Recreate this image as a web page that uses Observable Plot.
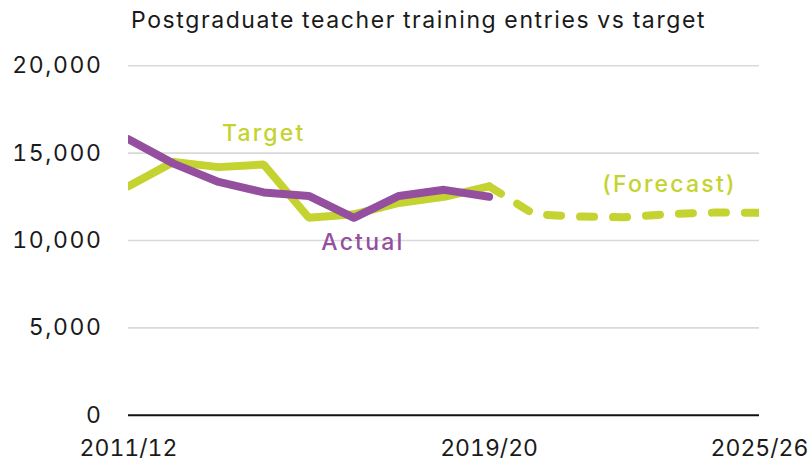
<!DOCTYPE html>
<html>
<head>
<meta charset="utf-8">
<script src="https://cdn.jsdelivr.net/npm/d3@7"></script>
<script src="https://cdn.jsdelivr.net/npm/@observablehq/plot@0.6"></script>
<style>
  html, body { margin: 0; padding: 0; background: #fff; }
  #title { height: 44px; box-sizing: border-box; padding-top: 9px; padding-left: 131px;
    font-family: Inter, sans-serif; font-size: 23px; line-height: 23px; color: #1a1a1a;
    letter-spacing: 1.6px; word-spacing: -1px; white-space: nowrap; }
  #chart svg { display: block; }
  #chart g[aria-label="y-axis tick label"] text { letter-spacing: 1.6px; }
  #chart g[aria-label="text"] text { letter-spacing: 2.2px; }
</style>
</head>
<body>
<div id="title">Postgraduate teacher training entries vs target</div>
<div id="chart"></div>
<script>
const years = ["2011/12","2012/13","2013/14","2014/15","2015/16","2016/17","2017/18","2018/19","2019/20","2020/21","2021/22","2022/23","2023/24","2024/25","2025/26"];
const targetValues = [13100, 14500, 14200, 14350, 11300, 11500, 12150, 12500, 13100];
const forecastValues = [13100, 11500, 11370, 11330, 11520, 11600, 11590];
const actualValues = [15800, 14400, 13350, 12750, 12550, 11300, 12550, 12900, 12500];
const xTickLabels = ["2011/12", "2019/20", "2025/26"];
const yTicks = [0, 5000, 10000, 15000, 20000];
const seriesLabels = ["Target", "Actual", "(Forecast)"];
const labelYears = [3, 5.2, 12];
const labelValues = [16100, 9900, 13200];

const GREEN = "#c4d32f";
const PURPLE = "#94509e";

const target = targetValues.map((v, i) => ({i, v}));
const forecastStart = years.indexOf("2019/20");
const forecast = forecastValues.map((v, k) => ({i: forecastStart + k, v}));
const actual = actualValues.map((v, i) => ({i, v}));
const labels = seriesLabels.map((t, k) => ({t, i: labelYears[k], v: labelValues[k], c: [GREEN, PURPLE, GREEN][k]}));

const plot = Plot.plot({
  width: 812,
  height: 417,
  marginLeft: 128,
  marginRight: 53,
  marginTop: 21.3,
  marginBottom: 46.3,
  style: {fontFamily: "Inter, sans-serif", fontSize: "23px", color: "#1a1a1a", background: "#fff"},
  x: {type: "linear", domain: [0, years.length - 1]},
  y: {domain: [0, 20000]},
  marks: [
    Plot.ruleY(yTicks.filter(d => d > 0), {stroke: "#d9d9d9", strokeWidth: 1.6}),
    Plot.ruleY([0], {stroke: "#111", strokeWidth: 2}),
    Plot.axisY({ticks: yTicks, tickFormat: d3.format(","), tickSize: 0, tickPadding: 26, label: null, fontSize: 23}),
    Plot.axisX({ticks: xTickLabels.map(l => years.indexOf(l)), tickFormat: i => years[i], tickSize: 0, tickPadding: 24, label: null, fontSize: 23}),
    Plot.line(forecast, {x: "i", y: "v", stroke: GREEN, strokeWidth: 8, strokeDasharray: "14,19", strokeLinecap: "round", clip: true}),
    Plot.line(target, {x: "i", y: "v", stroke: GREEN, strokeWidth: 8, strokeLinejoin: "miter", strokeLinecap: "round", clip: true}),
    Plot.line(actual, {x: "i", y: "v", stroke: PURPLE, strokeWidth: 8, strokeLinejoin: "round", strokeLinecap: "round", clip: true}),
    Plot.text(labels, {x: "i", y: "v", text: "t", fill: "c", fontSize: 23, fontWeight: 500})
  ]
});
document.getElementById("chart").appendChild(plot);
</script>
</body>
</html>
